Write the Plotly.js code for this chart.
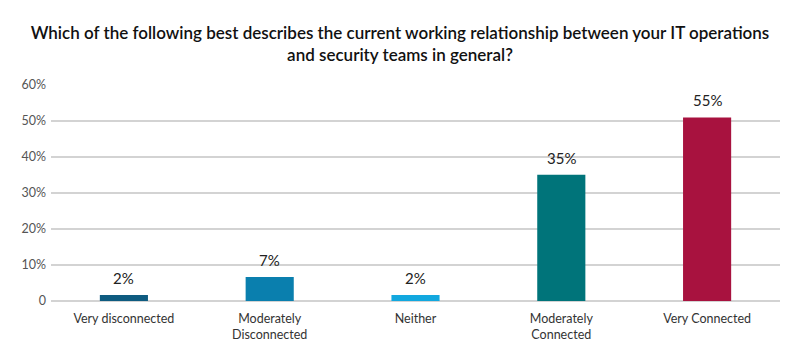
<!DOCTYPE html>
<html>
<head>
<meta charset="utf-8">
<script src="https://cdn.plot.ly/plotly-3.0.1.min.js"></script>
<style>html,body{margin:0;padding:0;background:#fff;}#chart{width:800px;height:364px;}</style>
</head>
<body>
<div id="chart"></div>
<script>
const categories = ["Very disconnected", "Moderately<br>Disconnected", "Neither", "Moderately<br>Connected", "Very Connected"];
const barHeights = [1.7, 6.7, 1.7, 35.1, 51.0];
const labels = ["2%", "7%", "2%", "35%", "55%"];
const colors = ["#0e5b80", "#0a7fae", "#12a8df", "#00747a", "#a8123f"];
const tickVals = [0, 10, 20, 30, 40, 50, 60];
const tickText = ["0", "10%", "20%", "30%", "40%", "50%", "60%"];

const FONT = "Lato, 'Open Sans', sans-serif";

const trace = {
  type: "bar",
  x: categories,
  y: barHeights,
  marker: {color: colors},
  hoverinfo: "none"
};

const annotations = categories.map((c, i) => ({
  x: c, y: barHeights[i], xref: "x", yref: "y",
  text: labels[i], showarrow: false, yanchor: "bottom", yshift: 6,
  font: {family: FONT, size: 15, color: "#222"}
}));

const layout = {
  width: 800, height: 364,
  margin: {l: 51, r: 20, t: 85, b: 63},
  paper_bgcolor: "#fff", plot_bgcolor: "#fff",
  showlegend: false,
  bargap: 0.67,
  title: {
    text: "Which of the following best describes the current working relationship between your IT operations<br>and security teams in general?",
    x: 0.5, xanchor: "center", y: 0.893, yanchor: "top", yref: "container",
    font: {family: FONT, size: 17, color: "#111", weight: 600}
  },
  xaxis: {
    showgrid: false, showline: false, zeroline: false, ticks: "",
    ticklabelstandoff: 8,
    tickfont: {family: FONT, size: 12.5, color: "#333"}
  },
  yaxis: {
    range: [0, 60], tickvals: tickVals, ticktext: tickText,
    showgrid: true, gridcolor: "#d3d3d3", gridwidth: 1.5,
    zeroline: true, zerolinecolor: "#d3d3d3", zerolinewidth: 1.5,
    showline: false, ticks: "", ticklabelstandoff: 4,
    tickfont: {family: FONT, size: 12.5, color: "#555"}
  },
  annotations: annotations
};

Plotly.newPlot("chart", [trace], layout, {displayModeBar: false, staticPlot: true});
</script>
</body>
</html>
